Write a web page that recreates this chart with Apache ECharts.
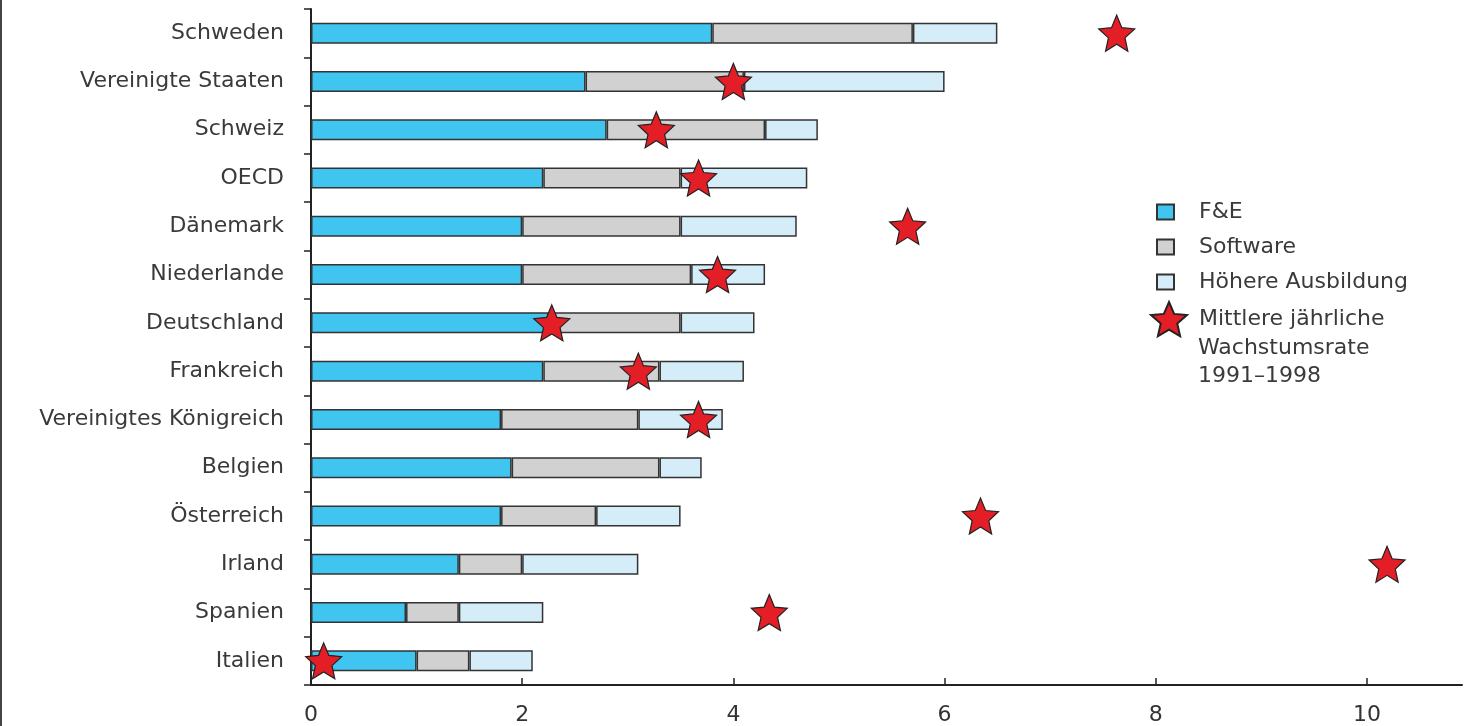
<!DOCTYPE html>
<html>
<head>
<meta charset="utf-8">
<script src="https://cdn.jsdelivr.net/npm/echarts@6/dist/echarts.min.js"></script>
<style>
html,body{margin:0;padding:0;background:#fff;}
#chart{width:1466px;height:726px;}
</style>
</head>
<body>
<div id="chart"></div>
<script>
const countries = ["Schweden","Vereinigte Staaten","Schweiz","OECD","Dänemark","Niederlande","Deutschland","Frankreich","Vereinigtes Königreich","Belgien","Österreich","Irland","Spanien","Italien"];
const fue = [3.8, 2.6, 2.8, 2.2, 2.0, 2.0, 2.25, 2.2, 1.8, 1.9, 1.8, 1.4, 0.9, 1.0];
const software = [1.9, 1.5, 1.5, 1.3, 1.5, 1.6, 1.25, 1.1, 1.3, 1.4, 0.9, 0.6, 0.5, 0.5];
const ausbildung = [0.8, 1.9, 0.5, 1.2, 1.1, 0.7, 0.7, 0.8, 0.8, 0.4, 0.8, 1.1, 0.8, 0.6];
const wachstum = [7.63, 4.0, 3.27, 3.67, 5.65, 3.85, 2.28, 3.10, 3.67, null, 6.34, 10.19, 4.34, 0.12];
const xTicks = [0, 2, 4, 6, 8, 10];

const seriesNames = ["F&E", "Software", "Höhere Ausbildung", "Mittlere jährliche"];

// five-pointed star icon (shape only, not data)
function starIcon(inner) {
  const pts = [];
  for (let k = 0; k < 10; k++) {
    const r = k % 2 === 0 ? 50 : 50 * inner;
    const a = -Math.PI / 2 + k * Math.PI / 5;
    pts.push((50 + r * Math.cos(a)).toFixed(2) + ',' + (50 + r * Math.sin(a)).toFixed(2));
  }
  return 'path://M' + pts.join(' L') + ' Z';
}
const starPath = starIcon(0.46);
const FONT = '"DejaVu Sans", sans-serif';

const chart = echarts.init(document.getElementById('chart'), null, {renderer: 'canvas'});

function barSeries(name, data, color) {
  return {
    name: name, type: 'bar', stack: 'total', data: data, barWidth: 21,
    itemStyle: {color: color, borderColor: '#333', borderWidth: 1.5},
    emphasis: {disabled: true}, z: 2
  };
}

chart.setOption({
  animation: false,
  backgroundColor: '#fff',
  grid: {left: 311, top: 9, right: 4, bottom: 39, containLabel: false},
  xAxis: {
    type: 'value', min: 0, max: 10.9, interval: 2,
    axisLine: {show: true, lineStyle: {color: '#222', width: 2}},
    axisTick: {show: true, inside: true, length: 7, lineStyle: {color: '#222', width: 1.5}},
    axisLabel: {
      fontFamily: FONT, fontSize: 22, color: '#333', margin: 19, showMaxLabel: false,
      formatter: v => xTicks.includes(v) ? String(v) : ''
    },
    splitLine: {show: false}
  },
  yAxis: {
    type: 'category', data: countries, inverse: true,
    axisLine: {show: true, lineStyle: {color: '#222', width: 2}},
    axisTick: {show: true, inside: false, length: 7, alignWithLabel: false, lineStyle: {color: '#222', width: 1.5}},
    axisLabel: {fontFamily: FONT, fontSize: 22, color: '#3a3a3a', margin: 27}
  },
  legend: [
    {
      data: seriesNames.slice(0, 3),
      orient: 'vertical', left: 1151, top: 196,
      itemWidth: 17, itemHeight: 15, itemGap: 13, icon: 'rect',
      selectedMode: false,
      textStyle: {fontFamily: FONT, fontSize: 22, color: '#3a3a3a', lineHeight: 20, padding: [0, 0, 0, 20]}
    },
    {
      data: [seriesNames[3]],
      orient: 'vertical', left: 1145, top: 296,
      itemWidth: 36, itemHeight: 36, icon: starPath,
      selectedMode: false,
      itemStyle: {opacity: 1},
      textStyle: {fontFamily: FONT, fontSize: 22, color: '#3a3a3a', padding: [0, 0, 0, 7]}
    }
  ],
  graphic: [
    {type: 'line', shape: {x1: 1, y1: 0, x2: 1, y2: 726}, style: {stroke: '#444', lineWidth: 2}},
    {type: 'text', left: 1198, top: 334, style: {text: 'Wachstumsrate\n1991–1998', font: '22px "DejaVu Sans", sans-serif', fill: '#3a3a3a', lineHeight: 28.5}}
  ],
  series: [
    barSeries(seriesNames[0], fue, '#3FC5F0'),
    barSeries(seriesNames[1], software, '#D1D1D1'),
    barSeries(seriesNames[2], ausbildung, '#D4EDF9'),
    {
      name: seriesNames[3], type: 'scatter', z: 5,
      symbol: starPath, symbolSize: [36, 36],
      itemStyle: {color: '#E41E26', opacity: 1, borderColor: '#222', borderWidth: 1.2},
      emphasis: {disabled: true},
      data: wachstum.map((v, i) => v === null ? null : [v, countries[i]]).filter(d => d !== null)
    }
  ]
});
</script>
</body>
</html>
